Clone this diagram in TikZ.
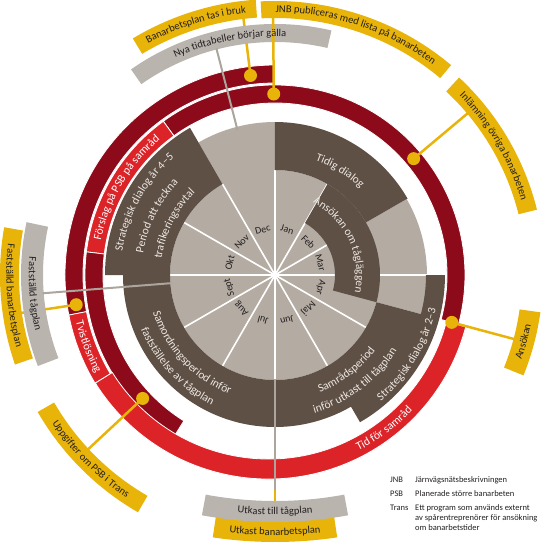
\documentclass[tikz,border=0pt]{standalone}
\usepackage{fontspec}
\setmainfont{Carlito}
\usepackage{tikz}
\usetikzlibrary{decorations.text}

\definecolor{ringdark}{HTML}{8C0A19}
\definecolor{ringbright}{HTML}{DC2328}
\definecolor{wheelbrown}{HTML}{5F5046}
\definecolor{wheelgray}{HTML}{B4ACA3}
\definecolor{labelgray}{HTML}{B9B4AE}
\definecolor{linegray}{HTML}{ABA59E}
\definecolor{gold}{HTML}{E8B40A}
\definecolor{cream}{HTML}{EDE8E1}
\definecolor{ink}{HTML}{231F20}

\newcommand{\ringpart}[5]{\path[#1] (#2:#4) arc[start angle=#2,end angle=#3,radius=#4] -- (#3:#5) arc[start angle=#3,end angle=#2,radius=#5] -- cycle;}
\newcommand{\arclabel}[5]{\path[decorate,decoration={text along path,text align=center,text={|#1|#5}}] (#2:#4) arc[start angle=#2,end angle=#3,radius=#4];}
\newcommand{\lblfnt}{\fontsize{10.5}{12}\selectfont\color{ink}}
\newcommand{\bndfnt}{\fontsize{11.5}{13}\selectfont\color{cream}}
\newcommand{\rngfnt}{\fontsize{11.5}{13}\selectfont\color{white}}

\begin{document}
\begin{tikzpicture}[x=1pt,y=1pt]

\tikzstyle{seg}=[draw=white,line width=0.8]
\tikzstyle{monthline}=[draw=white,line width=1.6]
\tikzstyle{yline}=[draw=gold,line width=2.5]
\tikzstyle{gline}=[draw=linegray,line width=2]
\tikzstyle{dot}=[fill=gold]
\tikzstyle{month}=[font=\fontsize{10}{12}\selectfont,text=ink,inner sep=0pt]
\tikzstyle{legend}=[font=\fontsize{8.5}{10}\selectfont,text=ink,anchor=base west,inner sep=0pt]

\useasboundingbox (-275,-280) rectangle (269,275);
\coordinate (hub) at (0,0);

\fill[wheelgray] (hub) circle[radius=105];
\ringpart{fill=wheelgray}{90}{120}{100}{153}
\ringpart{fill=wheelgray}{-15}{30}{100}{152}
\foreach \a in {0,30,...,330} \draw[monthline] (hub) -- (\a:105);
\draw[monthline] (0:105) -- (0:152);

\ringpart{fill=wheelbrown}{30}{90}{105}{153}
\ringpart{fill=wheelbrown}{-15}{60}{60}{105}
\ringpart{fill=wheelbrown}{-90}{-15}{105}{152}
\ringpart{fill=wheelbrown}{-60}{0}{151}{170}
\ringpart{fill=wheelbrown}{180}{270}{105}{152}
\ringpart{fill=wheelbrown}{120}{180}{105}{170}

\ringpart{seg,fill=ringdark}{-15}{126}{172}{190}
\ringpart{seg,fill=ringbright}{126}{173}{172}{190}
\ringpart{seg,fill=ringdark}{173}{238}{172}{190}
\ringpart{seg,fill=ringdark}{90.4}{191}{192}{210}
\ringpart{seg,fill=ringbright}{191}{211}{192}{210}
\begin{scope}[shift={(-6.6,0)}]
\ringpart{seg,fill=ringbright}{212}{345.3}{184}{204}
\end{scope}

\foreach \n/\a/\r/\t in {Bruk/97/201/259,Inl/40/181/252,Ans/-15/183/248,Fast/188.5/201/257,Upp/223/181/256}{
  \coordinate (dot\n) at (\a:\r);
  \coordinate (tag\n) at (\a:\t);
  \draw[yline] (tag\n) -- (dot\n);
  \fill[dot] (dot\n) circle[radius=6.5];
}
\coordinate (tagUtkB) at (0,-242);
\coordinate (ringUtk) at (0,-190);
\draw[yline] (tagUtkB) -- (ringUtk);

\ringpart{fill=gold}{94}{121}{258}{276}
\ringpart{fill=gold}{50}{93}{257}{274}
\ringpart{fill=gold}{14}{47}{251}{270}
\ringpart{fill=gold}{-22}{-8}{247}{268}
\ringpart{fill=gold}{170}{199}{256}{275}
\ringpart{fill=gold}{210}{240}{255}{274}
\ringpart{fill=labelgray}{77}{125}{233}{251}
\ringpart{fill=labelgray}{168}{201}{232}{254}
\begin{scope}[shift={(0,154)}]
\ringpart{fill=gold}{261.5}{278.5}{395}{421}
\ringpart{fill=labelgray}{259.5}{280.5}{380}{401}
\end{scope}

\coordinate (tagNya) at (104.5:234);
\coordinate (endNya) at (104.5:150);
\draw[gline] (tagNya) -- (endNya);
\coordinate (tagFtag) at (184.5:233);
\coordinate (endFtag) at (184.5:104);
\draw[gline] (tagFtag) -- (endFtag);
\coordinate (tagUtkT) at (0,-215);
\coordinate (endUtk) at (270:104);
\draw[gline] (tagUtkT) -- (endUtk);

\coordinate (dotJNB) at (90.4:181);
\coordinate (tagJNB) at (90.4:258);
\draw[yline] (tagJNB) -- (dotJNB);
\fill[dot] (dotJNB) circle[radius=6.5];

\arclabel{\lblfnt}{121}{94}{263.8}{Banarbetsplan tas i bruk}
\arclabel{\lblfnt}{93}{50}{262.8}{JNB publiceras med lista på banarbeten}
\arclabel{\lblfnt}{125}{77}{238.8}{Nya tidtabeller börjar gälla}
\arclabel{\lblfnt}{47}{14}{257.3}{Inlämning övriga banarbeten}
\arclabel{\lblfnt}{-22}{-8}{260.7}{Ansökan}
\arclabel{\lblfnt}{168}{201}{246.2}{Fastställd tågplan}
\arclabel{\lblfnt}{170}{199}{268.7}{Fastställd banarbetsplan}
\arclabel{\lblfnt}{210}{240}{267.7}{Uppgifter om PSB i Trans}
\begin{scope}[shift={(0,154)}]
\arclabel{\lblfnt}{259.5}{280.5}{393.7}{Utkast till tågplan}
\arclabel{\lblfnt}{261.5}{278.5}{414.2}{Utkast banarbetsplan}
\end{scope}

\arclabel{\rngfnt}{173}{126}{177.5}{Förslag på PSB på samråd}
\arclabel{\rngfnt}{191}{211}{204.5}{Tvistlösning}
\begin{scope}[shift={(-6.6,0)}]
\arclabel{\rngfnt}{277}{337}{197.5}{Tid för samråd}
\end{scope}

\arclabel{\bndfnt}{88}{28}{121.5}{Tidig dialog}
\arclabel{\bndfnt}{62}{-12}{81.5}{Ansökan om tågläggen}
\arclabel{\bndfnt}{181}{121}{154.5}{Strategisk dialog år 4–5}
\arclabel{\bndfnt}{183}{124}{133.5}{Period att teckna}
\arclabel{\bndfnt}{183}{123}{114.5}{trafikeringsavtal}
\arclabel{\bndfnt}{-61}{-1}{164.5}{Strategisk dialog år 2–3}
\arclabel{\bndfnt}{-88}{-18}{125.5}{Samrådsperiod}
\arclabel{\bndfnt}{-88}{-18}{143.5}{inför utkast till tågplan}
\arclabel{\bndfnt}{188}{258}{127.5}{Samordningsperiod inför}
\arclabel{\bndfnt}{188}{258}{144.5}{fastställelse av tågplan}

\foreach \m [count=\i] in {Jan,Feb,Mar,Apr,Maj,Jun,Jul,Aug,Sept,Okt,Nov,Dec}{
  \pgfmathsetmacro\ang{105-30*\i}
  \node[month,rotate=\ang-90] (m\i) at (\ang:47) {\m};
}

\node[legend] (abJNB) at (115,-207) {JNB};
\node[legend] (txJNB) at (140,-207) {Järnvägsnätsbeskrivningen};
\node[legend] (abPSB) at (115,-221) {PSB};
\node[legend] (txPSB) at (140,-221) {Planerade större banarbeten};
\node[legend] (abTrans) at (115,-235) {Trans};
\node[legend] (txTransA) at (140,-235) {Ett program som används externt};
\node[legend] (txTransB) at (140,-245) {av spårentreprenörer för ansökning};
\node[legend] (txTransC) at (140,-255) {om banarbetstider};

\end{tikzpicture}
\end{document}
